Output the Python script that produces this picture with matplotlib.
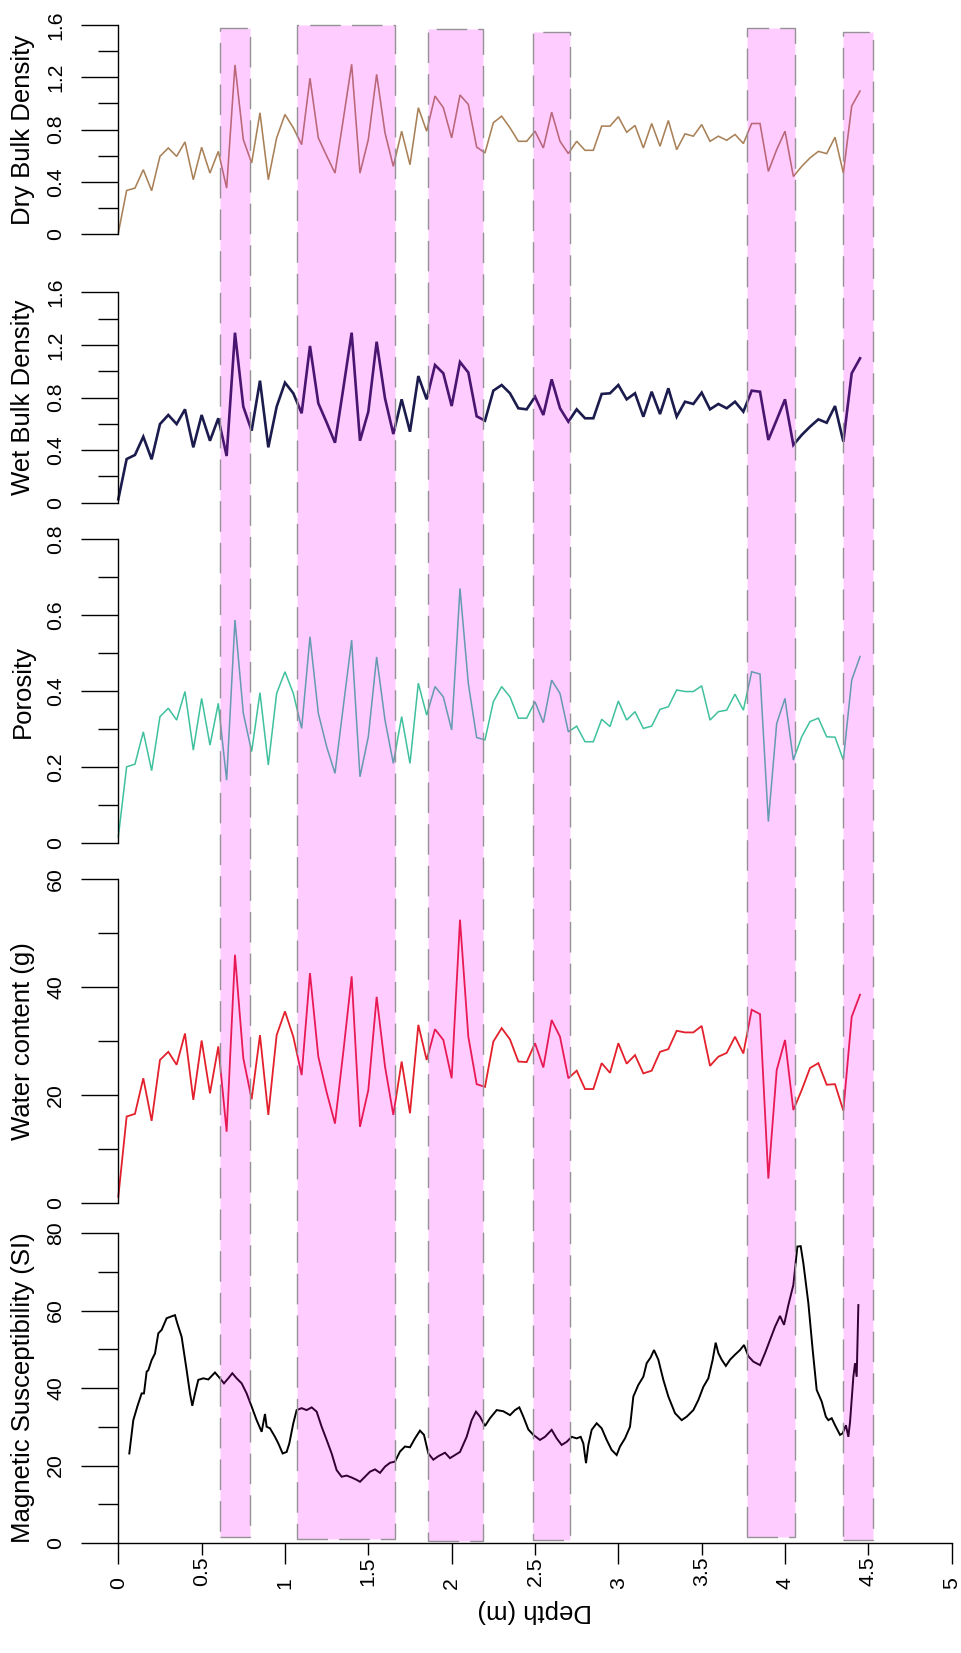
import matplotlib
matplotlib.use('Agg')
import matplotlib.pyplot as plt
from matplotlib.patches import Rectangle
from matplotlib.ticker import FixedLocator, FuncFormatter

plt.rcParams['font.family'] = ['Liberation Sans', 'DejaVu Sans']

# ---------------- data ----------------
depth = [0.00, 0.05, 0.10, 0.15, 0.20, 0.25, 0.30, 0.35, 0.40, 0.45,
         0.50, 0.55, 0.60, 0.65, 0.70, 0.75, 0.80, 0.85, 0.90, 0.95,
         1.00, 1.05, 1.10, 1.15, 1.20, 1.25, 1.30, 1.35, 1.40, 1.45,
         1.50, 1.55, 1.60, 1.65, 1.70, 1.75, 1.80, 1.85, 1.90, 1.95,
         2.00, 2.05, 2.10, 2.15, 2.20, 2.25, 2.30, 2.35, 2.40, 2.45,
         2.50, 2.55, 2.60, 2.65, 2.70, 2.75, 2.80, 2.85, 2.90, 2.95,
         3.00, 3.05, 3.10, 3.15, 3.20, 3.25, 3.30, 3.35, 3.40, 3.45,
         3.50, 3.55, 3.60, 3.65, 3.70, 3.75, 3.80, 3.85, 3.90, 3.95,
         4.00, 4.05, 4.10, 4.15, 4.20, 4.25, 4.30, 4.35, 4.40, 4.45]

dry_bulk = [0.01, 0.335, 0.353, 0.494, 0.333, 0.596, 0.66, 0.596, 0.706, 0.417,
            0.665, 0.468, 0.634, 0.353, 1.295, 0.724, 0.545, 0.929, 0.417, 0.737,
            0.916, 0.814, 0.686, 1.193, 0.737, 0.60, 0.468, 0.88, 1.30, 0.468,
            0.724, 1.223, 0.776, 0.519, 0.788, 0.532, 0.968, 0.788, 1.057, 0.968,
            0.737, 1.065, 0.993, 0.667, 0.622, 0.853, 0.903, 0.814, 0.711, 0.711,
            0.788, 0.66, 0.934, 0.711, 0.617, 0.711, 0.642, 0.642, 0.827, 0.827,
            0.899, 0.78, 0.832, 0.66, 0.847, 0.673, 0.870, 0.647, 0.768, 0.75,
            0.839, 0.711, 0.75, 0.719, 0.763, 0.694, 0.847, 0.847, 0.481, 0.647,
            0.788, 0.442, 0.519, 0.584, 0.634, 0.617, 0.742, 0.468, 0.98, 1.095]

wet_bulk = [0.026, 0.332, 0.363, 0.502, 0.33, 0.598, 0.667, 0.598, 0.71, 0.421,
            0.667, 0.471, 0.642, 0.355, 1.293, 0.73, 0.548, 0.928, 0.421, 0.73,
            0.913, 0.832, 0.68, 1.192, 0.756, 0.61, 0.456, 0.87, 1.293, 0.471,
            0.692, 1.224, 0.794, 0.522, 0.786, 0.54, 0.963, 0.786, 1.047, 0.984,
            0.735, 1.07, 0.99, 0.657, 0.624, 0.852, 0.895, 0.832, 0.718, 0.71,
            0.806, 0.667, 0.938, 0.718, 0.616, 0.71, 0.642, 0.642, 0.827, 0.832,
            0.895, 0.786, 0.832, 0.654, 0.844, 0.674, 0.87, 0.654, 0.768, 0.751,
            0.837, 0.71, 0.751, 0.718, 0.768, 0.692, 0.852, 0.844, 0.477, 0.63,
            0.786, 0.439, 0.515, 0.578, 0.634, 0.608, 0.735, 0.464, 0.984, 1.098]

porosity = [0.017, 0.201, 0.208, 0.293, 0.191, 0.333, 0.355, 0.324, 0.399, 0.245,
            0.381, 0.258, 0.368, 0.166, 0.587, 0.342, 0.241, 0.396, 0.206, 0.394,
            0.451, 0.394, 0.302, 0.543, 0.342, 0.254, 0.184, 0.36, 0.534, 0.175,
            0.280, 0.49, 0.324, 0.21, 0.333, 0.21, 0.421, 0.337, 0.412, 0.385,
            0.298, 0.670, 0.42, 0.278, 0.272, 0.372, 0.412, 0.385, 0.329, 0.329,
            0.372, 0.317, 0.429, 0.394, 0.293, 0.308, 0.267, 0.267, 0.326, 0.307,
            0.374, 0.324, 0.346, 0.302, 0.308, 0.352, 0.359, 0.403, 0.399, 0.399,
            0.414, 0.324, 0.346, 0.350, 0.392, 0.350, 0.451, 0.445, 0.057, 0.315,
            0.381, 0.219, 0.280, 0.32, 0.329, 0.280, 0.279, 0.219, 0.429, 0.491]

water_content = [1.1, 16.0, 16.5, 23.1, 15.2, 26.5, 28.0, 25.6, 31.4, 19.1,
                 30.1, 20.3, 29.0, 13.2, 46.0, 26.8, 19.2, 31.1, 16.3, 31.1,
                 35.5, 30.8, 23.7, 42.6, 27.1, 20.5, 14.7, 28.0, 42.0, 14.1,
                 20.9, 38.2, 25.3, 16.3, 26.2, 16.6, 33.0, 26.5, 32.2, 30.2,
                 23.1, 52.5, 30.8, 22.0, 21.5, 29.9, 32.4, 30.3, 26.2, 26.1,
                 29.6, 25.1, 33.9, 30.8, 23.1, 24.5, 21.1, 21.1, 25.9, 24.1,
                 29.6, 25.8, 27.4, 24.0, 24.5, 28.0, 28.5, 31.9, 31.6, 31.6,
                 32.8, 25.4, 27.1, 27.8, 30.8, 27.7, 35.8, 35.0, 4.5, 24.6,
                 30.2, 17.2, 20.9, 25.0, 25.9, 21.9, 22.0, 17.1, 34.5, 38.6]

mag_depth = [0.066, 0.09, 0.114, 0.14, 0.154, 0.17, 0.18, 0.20, 0.22, 0.24,
             0.26, 0.29, 0.314, 0.34, 0.354, 0.38, 0.41, 0.43, 0.444, 0.46,
             0.48, 0.51, 0.54, 0.58, 0.61, 0.634, 0.66, 0.684, 0.71, 0.74,
             0.77, 0.80, 0.83, 0.86, 0.88, 0.89, 0.91, 0.94, 0.96, 0.986,
             1.01, 1.026, 1.05, 1.07, 1.10, 1.13, 1.16, 1.19, 1.22, 1.25,
             1.28, 1.31, 1.34, 1.37, 1.40, 1.43, 1.45, 1.48, 1.51, 1.54,
             1.57, 1.60, 1.63, 1.66, 1.69, 1.72, 1.75, 1.78, 1.81, 1.834,
             1.86, 1.89, 1.92, 1.96, 1.99, 2.02, 2.05, 2.09, 2.12, 2.146,
             2.17, 2.20, 2.23, 2.27, 2.31, 2.35, 2.38, 2.406, 2.43, 2.46,
             2.49, 2.53, 2.56, 2.60, 2.63, 2.66, 2.69, 2.72, 2.75, 2.774,
             2.79, 2.806, 2.82, 2.84, 2.87, 2.90, 2.93, 2.96, 2.99, 3.01,
             3.04, 3.07, 3.09, 3.12, 3.15, 3.17, 3.194, 3.214, 3.24, 3.27,
             3.30, 3.34, 3.38, 3.41, 3.45, 3.48, 3.51, 3.54, 3.566, 3.584,
             3.60, 3.62, 3.645, 3.67, 3.70, 3.73, 3.754, 3.78, 3.81, 3.85,
             3.88, 3.91, 3.94, 3.97, 3.994, 4.02, 4.05, 4.074, 4.094, 4.11,
             4.14, 4.166, 4.19, 4.22, 4.245, 4.26, 4.28, 4.30, 4.33, 4.346,
             4.365, 4.38, 4.39, 4.41, 4.42, 4.43, 4.44]

mag_sus = [23.1, 31.7, 35.2, 38.6, 38.6, 44.2, 44.6, 47.2, 48.9, 54.1,
           55.0, 58.0, 58.4, 58.8, 56.7, 53.2, 44.6, 38.6, 35.4, 38.6,
           42.1, 42.5, 42.2, 44.0, 42.5, 41.2, 42.5, 43.8, 42.5, 41.2,
           38.6, 35.2, 31.7, 28.7, 33.3, 30.0, 29.6, 27.4, 25.7, 23.1,
           23.5, 25.7, 30.9, 34.3, 34.8, 34.3, 35.0, 33.9, 30.0, 26.6,
           23.1, 18.8, 17.1, 17.4, 16.9, 16.3, 15.8, 17.1, 18.4, 19.0,
           18.1, 19.7, 20.7, 21.0, 23.6, 24.9, 24.7, 27.0, 29.0, 27.9,
           23.1, 21.5, 22.4, 23.3, 21.9, 22.7, 23.5, 27.4, 31.7, 33.9,
           32.6, 30.2, 32.2, 34.3, 34.0, 33.0, 34.3, 35.0, 32.6, 29.3,
           27.9, 26.6, 27.4, 29.2, 27.0, 25.3, 26.1, 27.4, 27.0, 27.4,
           25.7, 20.6, 25.3, 29.2, 30.9, 29.6, 26.6, 24.0, 22.7, 24.9,
           27.0, 30.0, 37.8, 40.8, 42.9, 46.4, 47.9, 49.8, 47.3, 42.1,
           37.8, 33.5, 31.7, 32.6, 34.3, 36.9, 40.3, 42.5, 47.3, 51.7,
           49.0, 47.3, 45.7, 47.3, 48.6, 49.8, 51.1, 48.2, 46.8, 45.9,
           49.0, 52.4, 55.8, 58.6, 56.3, 61.4, 66.6, 76.5, 76.6, 72.2,
           61.9, 49.8, 39.5, 36.5, 32.6, 31.7, 32.2, 30.4, 27.9, 28.3,
           30.4, 27.4, 31.2, 42.9, 46.4, 42.9, 61.4]

zone_start = [0.61, 1.07, 1.86, 2.49, 3.77, 4.35]
zone_end = [0.79, 1.66, 2.19, 2.71, 4.06, 4.53]

panel_labels = ['Dry Bulk Density', 'Wet Bulk Density', 'Porosity',
                'Water content (g)', 'Magnetic Susceptibility (SI)']
x_ticks_major = [0, 1, 2, 3, 4, 5]
x_ticks_minor = [0.5, 1.5, 2.5, 3.5, 4.5]

# ---------------- styles / layout ----------------
W, H, DPI = 961, 1653, 100
X0_PX, X5_PX = 118.3, 951.7
# (bottom px, top px) of each panel's y range
panel_px = [(234.3, 25.0), (502.7, 292.3), (843.3, 539.0),
            (1202.8, 879.3), (1543.0, 1233.0)]
panel_ylim = [(0, 1.6), (0, 1.6), (0, 0.8), (0, 60), (0, 80)]
panel_major = [[0, 0.4, 0.8, 1.2, 1.6], [0, 0.4, 0.8, 1.2, 1.6],
               [0, 0.2, 0.4, 0.6, 0.8], [0, 20, 40, 60], [0, 20, 40, 60, 80]]
panel_minor = [[0.2, 0.6, 1.0, 1.4], [0.2, 0.6, 1.0, 1.4],
               [0.1, 0.3, 0.5, 0.7], [10, 30, 50], [10, 30, 50, 70]]
colors = ['#a98158', '#1b1b4d', '#3fc19e', '#e3202b', '#000000']
lws = [1.15, 1.9, 1.1, 1.3, 1.4]

PT = 72.0 / DPI  # points per pixel
TICK_FS = 15.3
LAB_FS = 18.5

fig = plt.figure(figsize=(W / DPI, H / DPI), dpi=DPI)
left = X0_PX / W
width = (X5_PX - X0_PX) / W

fmt = FuncFormatter(lambda v, p: ('%g' % round(v, 3)))

series = [(depth, dry_bulk), (depth, wet_bulk), (depth, porosity),
          (depth, water_content), (mag_depth, mag_sus)]

LABEL_BOTTOM_PX = 1589   # bottom end of the rotated depth tick labels
XMAJ_LEN, XMIN_LEN = 21, 12

axes = []
for i, ((xs, ys), (pb, pt)) in enumerate(zip(series, panel_px)):
    ax = fig.add_axes([left, 1 - pb / H, width, (pb - pt) / H])
    ax.patch.set_alpha(0)
    ax.plot(xs, ys, color=colors[i], lw=lws[i], clip_on=False,
            solid_joinstyle='miter')
    ax.set_xlim(0, 5)
    ax.set_ylim(*panel_ylim[i])
    for s in ['top', 'right']:
        ax.spines[s].set_visible(False)
    ax.spines['left'].set_linewidth(1.0)
    ax.yaxis.set_major_locator(FixedLocator(panel_major[i]))
    ax.yaxis.set_minor_locator(FixedLocator(panel_minor[i]))
    ax.yaxis.set_major_formatter(fmt)
    ax.tick_params(axis='y', which='major', length=36.7 * PT, width=1.0,
                   pad=16.5 * PT, labelsize=TICK_FS, labelrotation=90)
    ax.tick_params(axis='y', which='minor', length=20 * PT, width=1.0)
    for t in ax.yaxis.get_major_ticks():
        t.label1.set_va('center')
        t.label1.set_ha('right')
    ax.set_ylabel(panel_labels[i], fontsize=LAB_FS, rotation=90,
                  va='center', ha='center')
    ax.yaxis.set_label_coords((23 - X0_PX) / (X5_PX - X0_PX), 0.5)
    if i < 4:
        ax.spines['bottom'].set_visible(False)
        ax.set_xticks([])
    else:
        ax.spines['bottom'].set_linewidth(1.0)
        ax.xaxis.set_major_locator(FixedLocator(x_ticks_major))
        ax.xaxis.set_minor_locator(FixedLocator(x_ticks_minor))
        ax.xaxis.set_major_formatter(fmt)
        ax.xaxis.set_minor_formatter(fmt)
        ax.tick_params(axis='x', which='major', length=XMAJ_LEN * PT,
                       width=1.0, pad=(LABEL_BOTTOM_PX - pb - XMAJ_LEN) * PT,
                       labelsize=TICK_FS, labelrotation=90)
        ax.tick_params(axis='x', which='minor', length=XMIN_LEN * PT,
                       width=1.0, pad=(LABEL_BOTTOM_PX - 3 - pb - XMIN_LEN) * PT,
                       labelsize=TICK_FS, labelrotation=90)
        for t in ax.xaxis.get_major_ticks() + ax.xaxis.get_minor_ticks():
            t.label1.set_va('bottom')
            t.label1.set_ha('center')
        ax.set_xlabel('Depth (m)', fontsize=LAB_FS, rotation=180,
                      va='center', ha='center')
        ax.xaxis.set_label_coords(0.5, (pb - 1611) / (pb - pt))
    axes.append(ax)

# overlay with the shaded zones (semi-transparent, on top of the lines)
top_px, bot_px = 25.0, 1543.0
ov = fig.add_axes([left, 1 - bot_px / H, width, (bot_px - top_px) / H],
                  zorder=10)
ov.set_xlim(0, 5)
ov.set_ylim(0, 1)
ov.axis('off')
ov.patch.set_alpha(0)
zone_top = [0.998, 1.0, 0.9974, 0.9956, 0.998, 0.9956]
zone_bot = [0.004, 0.0026, 0.0013, 0.002, 0.004, 0.002]
for x0, x1, yt, yb in zip(zone_start, zone_end, zone_top, zone_bot):
    ov.add_patch(Rectangle((x0, yb), x1 - x0, yt - yb,
                           facecolor=(1, 0, 1, 0.2), edgecolor='#949296',
                           lw=1.0, linestyle=(0, (22, 8)), clip_on=False))

fig.savefig('out.png', dpi=DPI)
